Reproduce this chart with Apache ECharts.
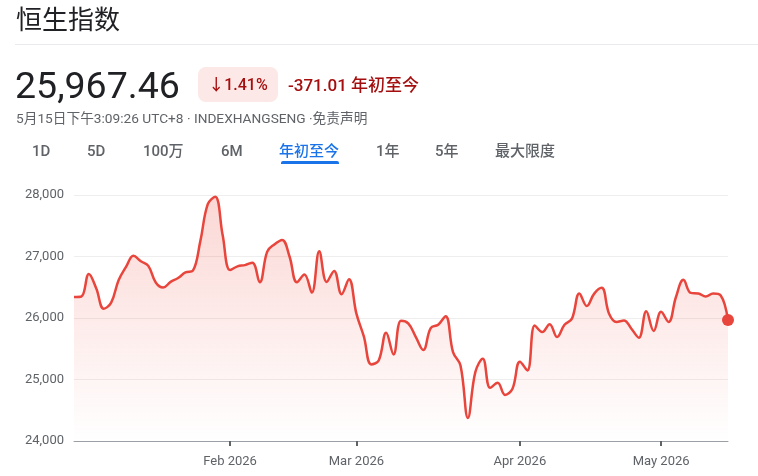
<!DOCTYPE html>
<html>
<head>
<meta charset="utf-8">
<script src="https://cdn.jsdelivr.net/npm/echarts@6/dist/echarts.min.js"></script>
<style>
  html, body { margin: 0; padding: 0; background: #fff; }
  body { width: 758px; height: 476px; position: relative; overflow: hidden;
         font-family: Roboto, "Noto Sans CJK SC", "Noto Sans", sans-serif; color: #202124; }
  .a { position: absolute; white-space: nowrap; }
  .tab { position: absolute; top: 141px; font-size: 15px; line-height: 20px; color: #5f6368; font-weight: 500; }
  #chart { position: absolute; left: 0; top: 0; width: 758px; height: 476px; }
</style>
</head>
<body>
<div id="chart"></div>
<div class="a" style="left:16px;top:0px;font-size:26px;line-height:36px;font-family:'Noto Sans CJK SC',sans-serif;color:#202124;">恒生指数</div>
<div class="a" style="left:15px;right:0;top:44px;height:1px;background:#e8eaed;"></div>
<div class="a" style="left:15px;top:62px;font-size:37.5px;line-height:46px;color:#202124;">25,967.46</div>
<div class="a" style="left:198px;top:67px;width:80px;height:35px;background:#fce8e6;border-radius:8px;color:#a50e0e;font-size:16px;line-height:35px;text-align:center;font-weight:500;">↓1.41%</div>
<div class="a" style="left:288px;top:73px;font-size:17px;line-height:24px;color:#a50e0e;font-weight:500;">-371.01 年初至今</div>
<div class="a" style="left:16px;top:110px;font-size:13.7px;line-height:17px;color:#5f6368;">5月15日下午3:09:26 UTC+8 · INDEXHANGSENG ·免责声明</div>
<div class="tab" style="left:32px;">1D</div>
<div class="tab" style="left:87px;">5D</div>
<div class="tab" style="left:143px;">100万</div>
<div class="tab" style="left:221px;">6M</div>
<div class="tab" style="left:279px;color:#1a73e8;">年初至今</div>
<div class="tab" style="left:376px;">1年</div>
<div class="tab" style="left:435px;">5年</div>
<div class="tab" style="left:495px;">最大限度</div>
<div class="a" style="left:281px;top:161px;width:58px;height:3px;background:#1a73e8;border-radius:2px 2px 0 0;"></div>
<script>
// Trading days (HKEX) Jan 2 – May 15, 2026
const dates = [
  '2026-01-02','2026-01-05','2026-01-06','2026-01-07','2026-01-08','2026-01-09',
  '2026-01-12','2026-01-13','2026-01-14','2026-01-15','2026-01-16',
  '2026-01-19','2026-01-20','2026-01-21','2026-01-22','2026-01-23',
  '2026-01-26','2026-01-27','2026-01-28','2026-01-29','2026-01-30',
  '2026-02-02','2026-02-03','2026-02-04','2026-02-05','2026-02-06',
  '2026-02-09','2026-02-10','2026-02-11','2026-02-12','2026-02-13',
  '2026-02-16','2026-02-20',
  '2026-02-23','2026-02-24','2026-02-25','2026-02-26','2026-02-27',
  '2026-03-02','2026-03-03','2026-03-04','2026-03-05','2026-03-06',
  '2026-03-09','2026-03-10','2026-03-11','2026-03-12','2026-03-13',
  '2026-03-16','2026-03-17','2026-03-18','2026-03-19','2026-03-20',
  '2026-03-23','2026-03-24','2026-03-25','2026-03-26','2026-03-27',
  '2026-03-30','2026-03-31',
  '2026-04-01','2026-04-02','2026-04-08','2026-04-09','2026-04-10',
  '2026-04-13','2026-04-14','2026-04-15','2026-04-16','2026-04-17',
  '2026-04-20','2026-04-21','2026-04-22','2026-04-23','2026-04-24',
  '2026-04-27','2026-04-28','2026-04-29','2026-04-30',
  '2026-05-04','2026-05-05','2026-05-06','2026-05-07','2026-05-08',
  '2026-05-11','2026-05-12','2026-05-13','2026-05-14','2026-05-15'
];
const values = [
  26342, 26350, 26717, 26478, 26152, 26250, 26614, 26832, 27011, 26924,
  26848, 26576, 26495, 26587, 26650, 26740, 26770, 27250, 27850, 27970,
  27350, 26780, 26840, 26860, 26900, 26580, 27080, 27200, 27270, 27000,
  26580, 26707, 26413, 27087, 26587, 26766, 26386, 26630, 26071, 25700,
  25245, 25310, 25760, 25408, 25955, 25908, 25690, 25480, 25837, 25890,
  26030, 25446, 25230, 24375, 25120, 25337, 24864, 24946, 24750, 24850,
  25290, 25147, 25880, 25772, 25900, 25690, 25890, 25990, 26400, 26196,
  26397, 26490, 26070, 25935, 25960, 25826, 25680, 26110, 25790, 26100,
  25935, 26342, 26620, 26408, 26400, 26350, 26400, 26370, 25967.46
];
const tickDates = ['2026-02-02', '2026-03-02', '2026-04-01', '2026-05-04'];
const tickLabels = ['Feb 2026', 'Mar 2026', 'Apr 2026', 'May 2026'];
const yTicks = [24000, 25000, 26000, 27000, 28000];

const lineColor = '#e8453c';
const isTick = (idx, val) => tickDates.indexOf(val) >= 0;
const last = values.length - 1;

const chart = echarts.init(document.getElementById('chart'), null, { renderer: 'canvas' });
chart.setOption({
  animation: false,
  grid: { left: 74, right: 30, top: 195, bottom: 35, containLabel: false },
  xAxis: {
    type: 'category',
    data: dates,
    boundaryGap: false,
    axisLine: { show: true, lineStyle: { color: '#9aa0a6', width: 1 } },
    axisTick: { show: true, interval: isTick, length: 5, lineStyle: { color: '#5f6368', width: 2 } },
    axisLabel: {
      interval: isTick,
      formatter: v => tickLabels[tickDates.indexOf(v)],
      color: '#5f6368', fontSize: 13, fontFamily: 'Roboto', margin: 14
    },
    splitLine: { show: false }
  },
  yAxis: {
    type: 'value',
    min: yTicks[0], max: yTicks[yTicks.length - 1], interval: 1000,
    axisLine: { show: false }, axisTick: { show: false },
    axisLabel: {
      color: '#5f6368', fontSize: 13, fontFamily: 'Roboto', margin: 10,
      formatter: v => v.toLocaleString('en-US')
    },
    splitLine: { show: true, lineStyle: { color: '#eeeeee', width: 1 } }
  },
  series: [
    {
      type: 'line',
      data: values,
      smooth: 0.4,
      showSymbol: false,
      lineStyle: { color: lineColor, width: 2.5 },
      areaStyle: {
        color: new echarts.graphic.LinearGradient(0, 0, 0, 1, [
          { offset: 0, color: 'rgba(234,67,53,0.30)' },
          { offset: 1, color: 'rgba(234,67,53,0.0)' }
        ])
      },
      z: 2
    },
    {
      type: 'scatter',
      data: [[dates[last], values[last]]],
      symbol: 'circle',
      symbolSize: 12,
      itemStyle: { color: lineColor, opacity: 1 },
      z: 3
    }
  ]
});
</script>
</body>
</html>
